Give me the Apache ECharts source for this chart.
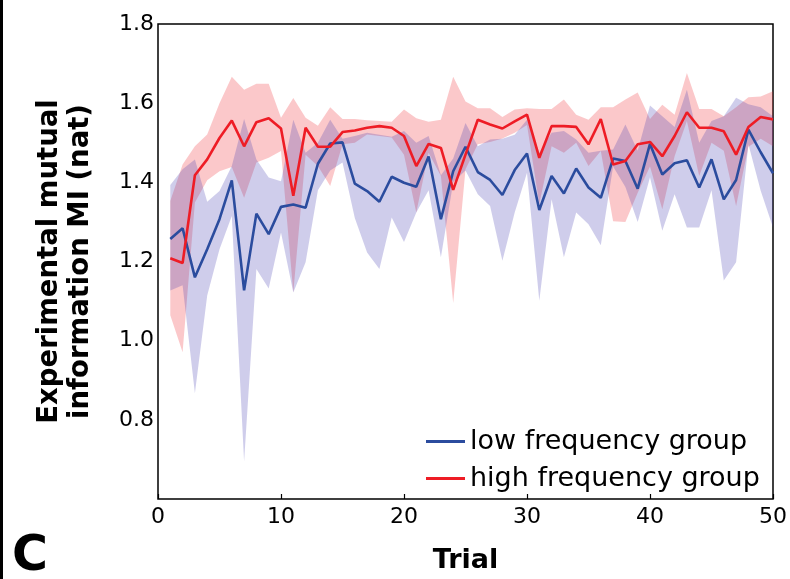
<!DOCTYPE html>
<html><head><meta charset="utf-8">
<script src="https://cdn.jsdelivr.net/npm/echarts@6/dist/echarts.min.js"></script>
<style>html,body{margin:0;padding:0;background:#fff}#c{width:790px;height:579px}</style>
</head><body><div id="c"></div>
<script>
const trials = [1,2,3,4,5,6,7,8,9,10,11,12,13,14,15,16,17,18,19,20,21,22,23,24,25,26,27,28,29,30,31,32,33,34,35,36,37,38,39,40,41,42,43,44,45,46,47,48,49,50];
const lowMean = [1.257,1.284,1.160,1.231,1.307,1.405,1.127,1.321,1.269,1.338,1.344,1.336,1.447,1.498,1.501,1.397,1.378,1.351,1.414,1.399,1.389,1.465,1.307,1.428,1.490,1.426,1.406,1.368,1.431,1.473,1.330,1.416,1.372,1.435,1.387,1.361,1.460,1.454,1.384,1.497,1.420,1.448,1.456,1.387,1.458,1.357,1.406,1.533,1.476,1.423];
const lowUpper = [1.393,1.433,1.458,1.351,1.378,1.441,1.560,1.458,1.412,1.403,1.558,1.475,1.500,1.558,1.510,1.517,1.525,1.520,1.515,1.530,1.500,1.517,1.418,1.460,1.550,1.491,1.508,1.510,1.520,1.558,1.475,1.525,1.530,1.508,1.475,1.480,1.483,1.546,1.480,1.594,1.567,1.540,1.634,1.500,1.555,1.567,1.614,1.597,1.590,1.567];
const lowLower = [1.127,1.140,0.867,1.114,1.231,1.315,0.695,1.181,1.132,1.273,1.122,1.198,1.380,1.430,1.450,1.310,1.223,1.181,1.311,1.249,1.324,1.380,1.211,1.400,1.430,1.370,1.340,1.202,1.324,1.424,1.101,1.357,1.211,1.324,1.294,1.241,1.440,1.388,1.300,1.413,1.278,1.370,1.286,1.286,1.380,1.152,1.198,1.496,1.379,1.286];
const highMean = [1.208,1.196,1.418,1.458,1.512,1.556,1.491,1.552,1.562,1.536,1.366,1.538,1.490,1.490,1.527,1.531,1.538,1.542,1.538,1.517,1.441,1.497,1.487,1.381,1.470,1.558,1.546,1.536,1.554,1.571,1.462,1.542,1.542,1.540,1.496,1.560,1.445,1.454,1.496,1.502,1.466,1.517,1.577,1.538,1.538,1.529,1.470,1.540,1.565,1.559];
const highUpper = [1.353,1.445,1.491,1.521,1.600,1.667,1.634,1.649,1.649,1.563,1.613,1.563,1.543,1.590,1.560,1.560,1.557,1.555,1.553,1.584,1.562,1.553,1.558,1.667,1.604,1.587,1.587,1.565,1.584,1.587,1.585,1.585,1.609,1.571,1.558,1.590,1.590,1.609,1.627,1.560,1.596,1.571,1.676,1.585,1.585,1.567,1.590,1.615,1.617,1.630];
const highLower = [1.064,0.971,1.349,1.405,1.428,1.439,1.361,1.450,1.462,1.479,1.122,1.470,1.441,1.391,1.496,1.500,1.521,1.517,1.513,1.470,1.324,1.475,1.416,1.095,1.433,1.496,1.502,1.511,1.525,1.545,1.345,1.491,1.475,1.500,1.441,1.479,1.302,1.300,1.374,1.440,1.332,1.466,1.555,1.416,1.500,1.480,1.340,1.490,1.510,1.491];
const seriesNames = ['low frequency group','high frequency group'];
const xTicks = [0,10,20,30,40,50];
const yTicks = [0.8,1.0,1.2,1.4,1.6,1.8];

const FONT = 'DejaVu Sans';
// category axis 0..50 so that stacked bands are handled by the library
const cats = [0].concat(trials).map(String);
const col = (ys) => ['-'].concat(ys);
const diffCol = (a,b) => ['-'].concat(a.map((v,i)=>+(v-b[i]).toFixed(4)));

function band(stackId, lower, upper, color, z){
  return [
    {type:'line', stack:stackId, data:col(lower), symbol:'none', lineStyle:{width:0, opacity:0}, silent:true, z:z},
    {type:'line', stack:stackId, data:diffCol(upper,lower), symbol:'none', lineStyle:{width:0, opacity:0}, areaStyle:{color:color, opacity:1}, silent:true, z:z}
  ];
}

const chart = echarts.init(document.getElementById('c'), null, {renderer:'canvas'});
chart.setOption({
  animation:false,
  backgroundColor:'#fff',
  grid:{left:158, right:17, top:24, bottom:78, show:true, borderColor:'#000', borderWidth:1.5, backgroundColor:'transparent'},
  xAxis:{type:'category', data:cats, boundaryGap:false,
    name:'Trial', nameLocation:'middle', nameGap:48,
    nameTextStyle:{fontFamily:FONT, fontSize:27, fontWeight:'bold', color:'#000'},
    axisLine:{show:false}, splitLine:{show:false},
    axisTick:{inside:true, length:5, interval:(i)=>xTicks.includes(i), lineStyle:{color:'#000', width:1.2}},
    axisLabel:{fontFamily:FONT, fontSize:22, color:'#000', margin:7, interval:(i)=>xTicks.includes(i)}},
  yAxis:{type:'value', min:0.6, max:1.8, interval:0.2,
    name:'Experimental mutual\ninformation MI (nat)', nameLocation:'middle', nameGap:62, nameRotate:90,
    nameTextStyle:{fontFamily:FONT, fontSize:27.5, fontWeight:'bold', color:'#000', lineHeight:31},
    axisLine:{show:false}, splitLine:{show:false},
    axisTick:{inside:true, length:5, lineStyle:{color:'#000', width:1.2}},
    axisLabel:{fontFamily:FONT, fontSize:22, color:'#000', margin:4,
      formatter:(v)=> yTicks.some(t=>Math.abs(t-v)<1e-6) ? v.toFixed(1) : ''}},
  legend:{data:seriesNames, orient:'vertical', left:421, top:421, itemGap:6,
    icon:'rect', itemWidth:39, itemHeight:3,
    textStyle:{fontFamily:FONT, fontSize:27, color:'#000', lineHeight:31}},
  series:[
    ...band('highBand', highLower, highUpper, 'rgba(242,52,60,0.27)', 1),
    ...band('lowBand', lowLower, lowUpper, 'rgba(70,62,178,0.26)', 2),
    {name:seriesNames[0], type:'line', data:col(lowMean), symbol:'none', lineStyle:{color:'#2b4c9e', width:2.6}, itemStyle:{color:'#2b4c9e'}, z:3},
    {name:seriesNames[1], type:'line', data:col(highMean), symbol:'none', lineStyle:{color:'#ee1c25', width:2.6}, itemStyle:{color:'#ee1c25'}, z:4}
  ],
  graphic:[
    {type:'rect', left:0, top:0, shape:{width:3, height:579}, style:{fill:'#000'}},
    {type:'text', left:12, top:533, style:{text:'C', fontFamily:FONT, fontSize:49, fontWeight:'bold', fill:'#000'}}
  ]
});
</script></body></html>
